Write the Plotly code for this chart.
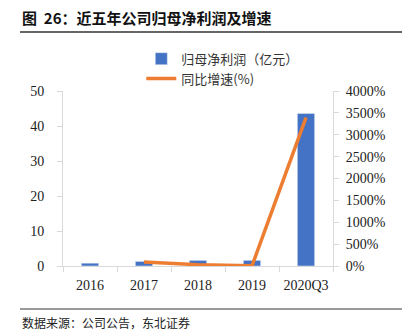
import plotly.graph_objects as go

categories = ["2016", "2017", "2018", "2019", "2020Q3"]
profit = [0.8, 1.3, 1.6, 1.6, 43.6]
growth_cats = ["2017", "2018", "2019", "2020Q3"]
growth = [90, 30, 5, 3390]
left_ticks = [0, 10, 20, 30, 40, 50]
right_ticks = [0, 500, 1000, 1500, 2000, 2500, 3000, 3500, 4000]

serif = "Liberation Serif, Times New Roman, serif"
cjk = "Noto Sans CJK SC"

fig = go.Figure()
fig.add_trace(go.Bar(x=categories, y=profit, name="归母净利润（亿元）",
                     marker_color="#4472C4", width=0.32))
fig.add_trace(go.Scatter(x=growth_cats, y=growth, name="同比增速(%)", yaxis="y2",
                         mode="lines", line=dict(color="#ED7D31", width=3.5)))

axis_line = "#D9D9D9"
fig.update_layout(
    width=408, height=336,
    margin=dict(l=63, r=75, t=91, b=70),
    plot_bgcolor="white", paper_bgcolor="white",
    showlegend=True,
    legend=dict(x=0.29, y=1.27, xanchor="left", yanchor="top",
                font=dict(family=cjk, size=13, color="#333"),
                bgcolor="rgba(0,0,0,0)", tracegroupgap=0, itemwidth=30),
    xaxis=dict(type="category", showline=True, linecolor=axis_line, ticks="outside",
               tickson="boundaries", tickcolor=axis_line, ticklen=5, tickangle=0,
               ticklabelstandoff=6,
               tickfont=dict(family=serif, size=14, color="#222"), showgrid=False),
    yaxis=dict(range=[0, 50], tickvals=left_ticks, showline=True, linecolor=axis_line,
               ticks="outside", tickcolor=axis_line, ticklen=5, showgrid=False, zeroline=False,
               ticklabelstandoff=10,
               tickfont=dict(family=serif, size=14, color="#222")),
    yaxis2=dict(range=[0, 4000], tickvals=right_ticks, ticktext=[f"{v}%" for v in right_ticks],
                overlaying="y", side="right", showline=True, linecolor=axis_line,
                ticks="outside", tickcolor=axis_line, ticklen=5, showgrid=False, zeroline=False,
                ticklabelstandoff=4,
                tickfont=dict(family=serif, size=14, color="#222")),
    font=dict(family=serif),
)

fig.add_annotation(text="<b>图  26：近五年公司归母净利润及增速</b>", xref="paper", yref="paper",
                   x=-63/270, y=(266-17)/175, xanchor="left", yanchor="middle", showarrow=False,
                   font=dict(family=cjk, size=15, color="#111"), xshift=20)
fig.add_annotation(text="数据来源：公司公告，东北证券", xref="paper", yref="paper",
                   x=-63/270, y=(266-322)/175, xanchor="left", yanchor="middle", showarrow=False,
                   font=dict(family=cjk, size=12, color="#222"), xshift=20)
fig.add_shape(type="line", xref="paper", yref="paper", x0=(20-63)/270, x1=(402-63)/270,
              y0=(266-32)/175, y1=(266-32)/175, line=dict(color="#333", width=1.5))
fig.add_shape(type="line", xref="paper", yref="paper", x0=(20-63)/270, x1=(402-63)/270,
              y0=(266-309)/175, y1=(266-309)/175, line=dict(color="#777", width=1.5))

fig.write_html("out.html")
